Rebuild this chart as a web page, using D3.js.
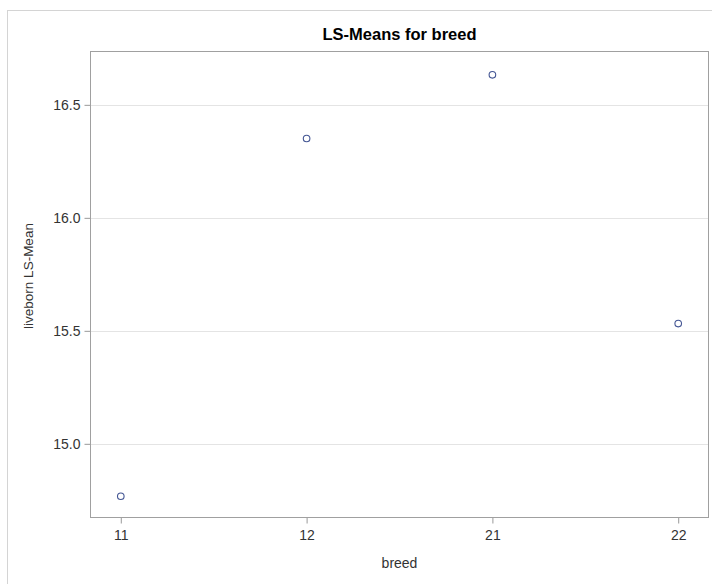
<!DOCTYPE html>
<html>
<head>
<meta charset="utf-8">
<script src="https://cdn.jsdelivr.net/npm/d3@7"></script>
<style>
  html, body { margin: 0; padding: 0; background: #fff; }
  svg { display: block; }
</style>
</head>
<body>
<script>
const breeds = ["11", "12", "21", "22"];
const lsMeans = [14.768, 16.351, 16.633, 15.532];
const yTicks = [15.0, 15.5, 16.0, 16.5];
const titleText = "LS-Means for breed";
const xLabel = "breed";
const yLabel = "liveborn LS-Mean";

const W = 712, H = 584;
const plot = { left: 90.5, right: 708.5, top: 51.5, bottom: 517.5 };
const font = "'Liberation Sans', Arial, Helvetica, sans-serif";

const svg = d3.select("body").append("svg").attr("width", W).attr("height", H);

// outer frame
svg.append("rect").attr("x", 7.5).attr("y", 10.5).attr("width", W).attr("height", H)
  .attr("fill", "#fff").attr("stroke", "#d4d4d4").attr("stroke-width", 1);

const x = d3.scalePoint().domain(breeds).range([plot.left, plot.right]).padding(0.163);
const y = d3.scaleLinear().domain([14.674, 16.736]).range([plot.bottom, plot.top]);

// gridlines
svg.append("g").selectAll("line").data(yTicks).join("line")
  .attr("x1", plot.left).attr("x2", plot.right)
  .attr("y1", d => Math.round(y(d)) + 0.5).attr("y2", d => Math.round(y(d)) + 0.5)
  .attr("stroke", "#e4e4e4").attr("stroke-width", 1);

// y axis
const yAxis = svg.append("g").attr("transform", `translate(${plot.left},0)`)
  .call(d3.axisLeft(y).tickValues(yTicks).tickFormat(d3.format(".1f")).tickSize(6).tickPadding(4));
yAxis.select(".domain").remove();
yAxis.selectAll(".tick line").attr("stroke", "#999");
yAxis.selectAll(".tick text").attr("fill", "#333").style("font-family", font).style("font-size", "14px");

// x axis
const xAxis = svg.append("g").attr("transform", `translate(0,${plot.bottom})`)
  .call(d3.axisBottom(x).tickSize(6).tickPadding(7));
xAxis.select(".domain").remove();
xAxis.selectAll(".tick line").attr("stroke", "#999");
xAxis.selectAll(".tick text").attr("fill", "#333").style("font-family", font).style("font-size", "14px");

// plot frame
svg.append("rect").attr("x", plot.left).attr("y", plot.top)
  .attr("width", plot.right - plot.left).attr("height", plot.bottom - plot.top)
  .attr("fill", "none").attr("stroke", "#a0a0a0").attr("stroke-width", 1);

// points
svg.append("g").selectAll("circle").data(breeds.map((b, i) => ({ b, v: lsMeans[i] }))).join("circle")
  .attr("cx", d => x(d.b)).attr("cy", d => y(d.v)).attr("r", 3.3)
  .attr("fill", "none").attr("stroke", "#445694").attr("stroke-width", 1.1);

// title
svg.append("text").attr("x", (plot.left + plot.right) / 2).attr("y", 40)
  .attr("text-anchor", "middle").style("font-family", font).style("font-size", "16.5px")
  .style("font-weight", "bold").attr("fill", "#000").text(titleText);

// x label
svg.append("text").attr("x", (plot.left + plot.right) / 2).attr("y", 567.5)
  .attr("text-anchor", "middle").style("font-family", font).style("font-size", "14px")
  .attr("fill", "#333").text(xLabel);

// y label
svg.append("text").attr("transform", `translate(33,276) rotate(-90)`)
  .attr("text-anchor", "middle").style("font-family", font).style("font-size", "13.5px")
  .attr("fill", "#333").text(yLabel);
</script>
</body>
</html>
